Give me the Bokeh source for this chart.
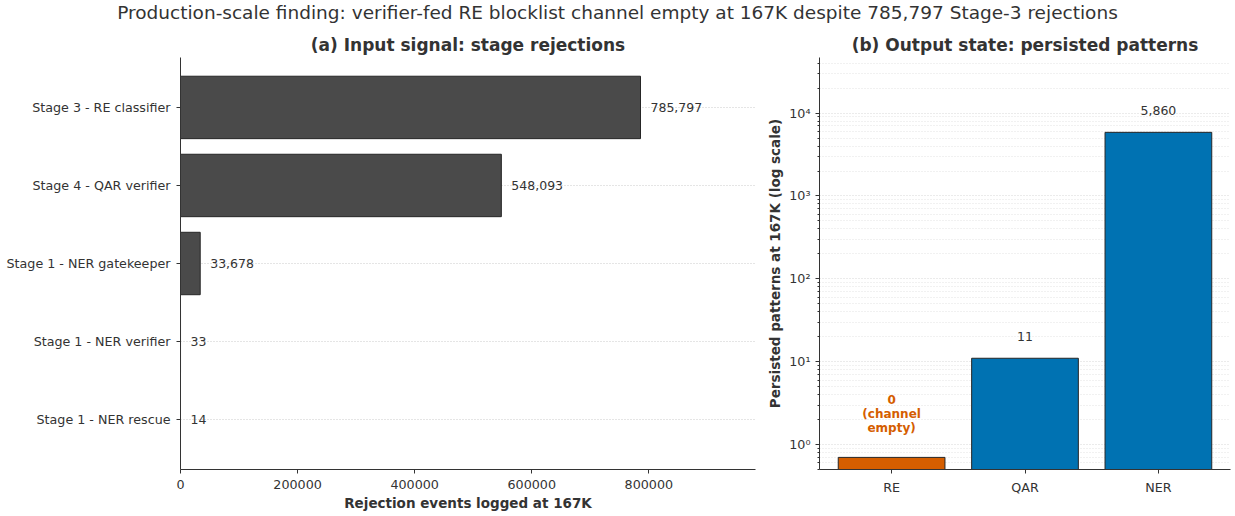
from bokeh.plotting import figure
from bokeh.models import (Range1d, FactorRange, FixedTicker, BasicTickFormatter,
                          ColumnDataSource, Div)
from bokeh.layouts import row, column
from bokeh.embed import file_html
from bokeh.resources import INLINE
from bokeh.core.properties import value

FONT = "DejaVu Sans"
INK = "#333333"
BAR_DARK = "#4a4a4a"
EDGE = "#262626"
BLUE = "#0072B2"
ORANGE = "#D55E00"

# ---- data -------------------------------------------------------------
stages = [
    "Stage 3 - RE classifier",
    "Stage 4 - QAR verifier",
    "Stage 1 - NER gatekeeper",
    "Stage 1 - NER verifier",
    "Stage 1 - NER rescue",
]
rejections = [785797, 548093, 33678, 33, 14]
x_ticks = [0, 200000, 400000, 600000, 800000]

channels = ["RE", "QAR", "NER"]
persisted = [0, 11, 5860]
channel_colors = [ORANGE, BLUE, BLUE]
log_floor = 0.7          # stand-in height so an empty channel is visible on log axis
log_ticks = [1, 10, 100, 1000, 10000]
log_tick_labels = ["10⁰", "10¹", "10²", "10³", "10⁴"]

suptitle = ("Production-scale finding: verifier-fed RE blocklist channel empty "
            "at 167K despite 785,797 Stage-3 rejections")


def style_axes(p):
    p.outline_line_color = None
    p.background_fill_color = "white"
    p.border_fill_color = "white"
    p.title.text_font = FONT
    p.title.text_font_size = "17px"
    p.title.text_font_style = "bold"
    p.title.text_color = INK
    p.title.align = "center"
    p.title.standoff = 5
    for ax in p.axis:
        ax.axis_line_color = INK
        ax.axis_line_width = 1
        ax.major_tick_line_color = INK
        ax.minor_tick_line_color = INK
        ax.major_tick_out = 4
        ax.major_tick_in = 0
        ax.minor_tick_out = 2
        ax.minor_tick_in = 0
        ax.major_label_text_font = FONT
        ax.major_label_text_font_size = "12.7px"
        ax.major_label_text_color = INK
        ax.major_label_standoff = 6
        ax.axis_label_text_font = FONT
        ax.axis_label_text_font_size = "13.5px"
        ax.axis_label_text_font_style = "bold"
        ax.axis_label_text_color = INK
        ax.axis_label_standoff = 3


# ---- (a) horizontal bars ------------------------------------------------
idx = list(range(len(stages)))
src_a = ColumnDataSource(dict(
    idx=idx,
    value=rejections,
    label=[f"{v:,}" for v in rejections],
))

p1 = figure(
    frame_width=575, frame_height=412,
    min_border_left=180, min_border_right=5,
    min_border_top=31, min_border_bottom=47,
    x_range=Range1d(0, max(rejections) * 1.25),
    y_range=Range1d(len(stages) - 1 + 0.64, -0.64),
    title="(a) Input signal: stage rejections",
    output_backend="svg", toolbar_location=None,
)
style_axes(p1)

p1.xgrid.grid_line_color = None
y_ticker = FixedTicker(ticks=idx)
p1.yaxis.ticker = y_ticker
p1.ygrid.ticker = y_ticker
p1.yaxis.major_label_overrides = {i: s for i, s in zip(idx, stages)}
p1.yaxis.minor_tick_line_color = None
p1.ygrid.grid_line_color = "#bdbdbd"
p1.ygrid.grid_line_dash = "1 2"
p1.ygrid.grid_line_width = 0.8

x_ticker = FixedTicker(ticks=x_ticks)
p1.xaxis.ticker = x_ticker
p1.xaxis.formatter = BasicTickFormatter(use_scientific=False)
p1.xaxis.minor_tick_line_color = None
p1.xaxis.axis_label = "Rejection events logged at 167K"

p1.hbar(y="idx", left=0, right="value", height=0.8, source=src_a,
        fill_color=BAR_DARK, line_color=EDGE, line_width=1)
p1.text(x="value", y="idx", text="label", source=src_a,
        x_offset=10, text_baseline="middle", text_align="left",
        text_font=value(FONT), text_font_size="12.5px", text_color=INK)

# ---- (b) log-scale vertical bars ---------------------------------------
shown = [v if v > 0 else log_floor for v in persisted]
src_b = ColumnDataSource(dict(
    channel=channels,
    shown=shown,
    color=channel_colors,
))
nonzero = ColumnDataSource(dict(
    channel=[c for c, v in zip(channels, persisted) if v > 0],
    label_y=[v * 1.5 for v in persisted if v > 0],
    label=[f"{v:,}" for v in persisted if v > 0],
))
empty = ColumnDataSource(dict(
    channel=[c for c, v in zip(channels, persisted) if v == 0],
    label_y=[log_floor * 1.5 for v in persisted if v == 0],
    label=[f"{v}\n(channel\nempty)" for v in persisted if v == 0],
))

p2 = figure(
    frame_width=411, frame_height=412,
    min_border_left=59, min_border_right=5,
    min_border_top=31, min_border_bottom=47,
    x_range=FactorRange(factors=channels, range_padding=0.027),
    y_range=Range1d(0.5, max(persisted) * 8),
    y_axis_type="log",
    title="(b) Output state: persisted patterns",
    output_backend="svg", toolbar_location=None,
)
style_axes(p2)

minor = [m * 10.0 ** k for k in range(-1, 5) for m in range(2, 10)]
minor = [t for t in minor if 0.5 <= t <= max(persisted) * 8]
log_ticker = FixedTicker(ticks=log_ticks, minor_ticks=minor)
p2.yaxis.ticker = log_ticker
p2.ygrid.ticker = log_ticker
p2.yaxis.major_label_overrides = {t: s for t, s in zip(log_ticks, log_tick_labels)}
p2.yaxis.major_label_standoff = 5
p2.yaxis.axis_label = "Persisted patterns at 167K (log scale)"
p2.xgrid.grid_line_color = None
p2.ygrid.grid_line_color = "#cccccc"
p2.ygrid.grid_line_dash = "1 2"
p2.ygrid.grid_line_width = 0.8
p2.ygrid.minor_grid_line_color = "#d9d9d9"
p2.ygrid.minor_grid_line_dash = "1 2"
p2.ygrid.minor_grid_line_width = 0.7
p2.xaxis.minor_tick_line_color = None

p2.vbar(x="channel", top="shown", bottom=0.01, width=0.8, source=src_b,
        fill_color="color", line_color=EDGE, line_width=1)
p2.text(x="channel", y="label_y", text="label", source=nonzero,
        y_offset=-3, text_align="center", text_baseline="bottom",
        text_font=value(FONT), text_font_size="12.5px", text_color=INK)
p2.text(x="channel", y="label_y", text="label", source=empty,
        y_offset=-8, text_align="center", text_baseline="bottom",
        text_line_height=1.0,
        text_font=value(FONT), text_font_size="12px",
        text_font_style="bold", text_color=ORANGE)

head = Div(
    text=suptitle, width=1235, height=26, margin=0,
    styles={
        "font-family": FONT, "font-size": "18.5px", "color": INK,
        "text-align": "center", "line-height": "26px", "width": "1235px",
    },
)

layout = column(head, row(p1, p2, spacing=0), spacing=0)
open("out.html", "w").write(file_html(layout, INLINE))
